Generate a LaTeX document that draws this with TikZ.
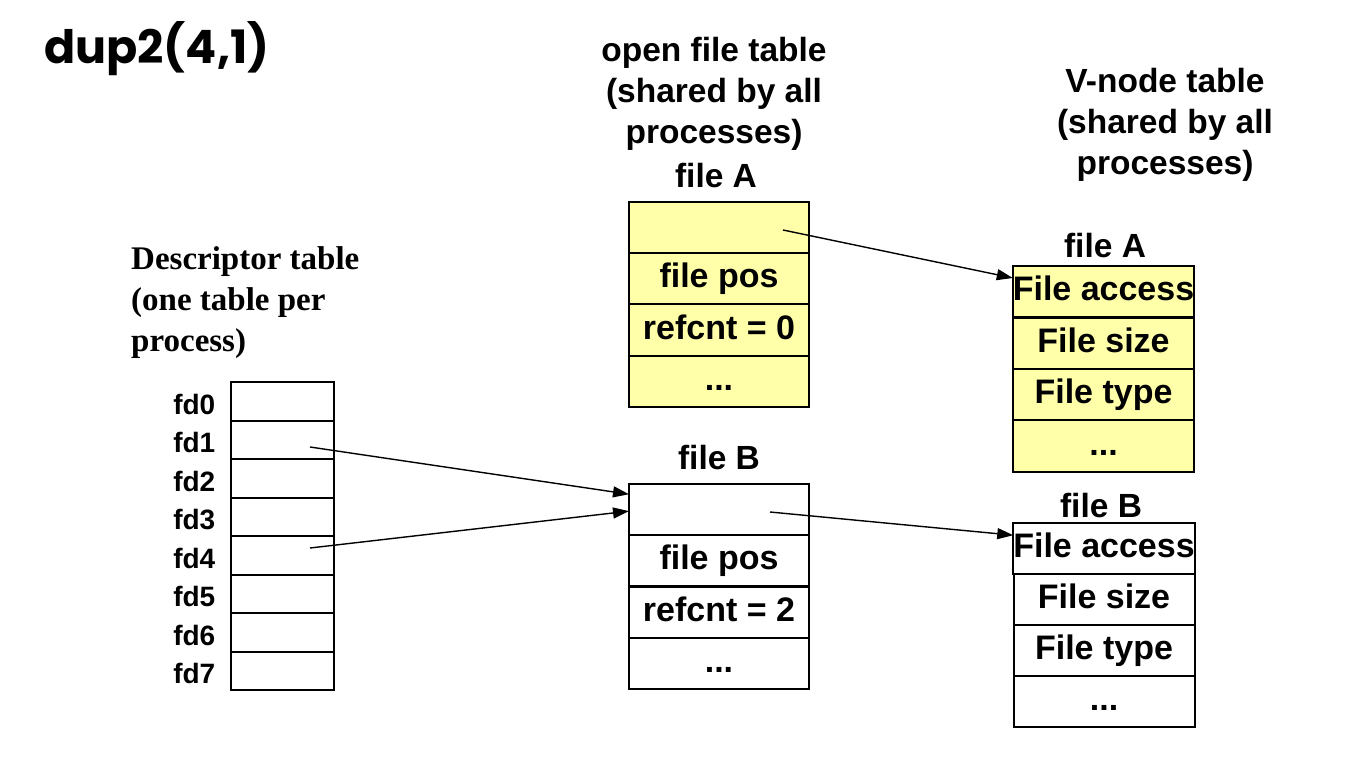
\documentclass[tikz,border=0pt]{standalone}
\usepackage{fontspec}
\setmainfont{Liberation Sans}
\newfontfamily\serifb{Liberation Serif}
\newfontfamily\titlef{Poppins}
\usetikzlibrary{arrows.meta,calc}
\definecolor{pale}{HTML}{FFFFAA}
\newcommand{\fsz}[2]{\fontsize{#1}{#2}\selectfont}
\tikzset{
  cell/.style={draw, line width=2pt, inner sep=0pt, outer sep=0pt, text height=25pt, text depth=7pt, font=\bfseries\fsz{34}{40}},
  fdcell/.style={cell, minimum width=103, minimum height=38.5},
  ofcell/.style={cell, minimum width=180, minimum height=51.25},
  vncell/.style={cell, minimum width=181, minimum height=51.2},
  fdlab/.style={anchor=east, inner sep=0pt, font=\bfseries\fsz{28}{32}},
  head/.style={inner sep=0pt, align=center, font=\bfseries\fsz{33.5}{41}},
  arr/.style={line width=1.4pt, -{Triangle[length=16pt, width=11pt]}},
}
\begin{document}
\begin{tikzpicture}[x=1pt, y=-1pt]
\useasboundingbox (0,0) rectangle (1356,768);
% title
\node[inner sep=0pt, anchor=west, font=\titlef\bfseries\fsz{46}{52}] (title) at (44,49) {dup2(4,1)};
% descriptor table
\node[inner sep=0pt, anchor=west, align=left, font=\serifb\bfseries\fsz{33}{41}] (dhead) at (131,303) {Descriptor table\\(one table per\\process)};
\foreach \i in {0,...,7} {
  \node[fdlab] (fl\i) at (215.5,{385+38.5*(\i+0.5)}) {fd\i};
  \node[fdcell] (d\i) at (282.5,{382+38.5*(\i+0.5)}) {};
}
% open file table
\node[head] (ohead) at (714,94) {open file table\\(shared by all\\processes)};
\node[head] (oA) at (716,176) {file A};
\node[ofcell, fill=pale] (oa1) at (719,227.6) {};
\node[ofcell, fill=pale] (oa2) at (719,278.9) {file pos};
\node[ofcell, fill=pale] (oa3) at (719,330.1) {refcnt = 0};
\node[ofcell, fill=pale] (oa4) at (719,381.4) {...};
\node[head] (oB) at (719,458) {file B};
\node[ofcell] (ob1) at (719,509.6) {};
\node[ofcell] (ob2) at (719,560.9) {file pos};
\node[ofcell] (ob3) at (719,612.1) {refcnt = 2};
\node[ofcell] (ob4) at (719,663.4) {...};
% v-node table
\node[head] (vhead) at (1165,125) {V-node table\\(shared by all\\processes)};
\node[head] (vA) at (1105,246) {file A};
\node[vncell, fill=pale] (va1) at (1103.5,291.8) {File access};
\node[vncell, fill=pale] (va2) at (1103.5,343.2) {File size};
\node[vncell, fill=pale] (va3) at (1103.5,394.6) {File type};
\node[vncell, fill=pale] (va4) at (1103.5,446) {...};
\node[head] (vB) at (1101,506) {file B};
\node[vncell] (vb1) at (1104,548.5) {File access};
\node[vncell] (vb2) at (1104,599.5) {File size};
\node[vncell] (vb3) at (1104,650.5) {File type};
\node[vncell] (vb4) at (1104,701.5) {...};
% connectors
\coordinate (sA) at (783,230);
\coordinate (s1) at (310,447);
\coordinate (s4) at (310,548);
\coordinate (sB) at (770,512);
\draw[arr] (sA) -- ($(va1.north west)!0.23!(va1.south west)$);
\draw[arr] (s1) -- ($(ob1.north west)!0.2!(ob1.south west)$);
\draw[arr] (s4) -- ($(ob1.north west)!0.53!(ob1.south west)$);
\draw[arr] (sB) -- ($(vb1.north west)!0.24!(vb1.south west)$);
\end{tikzpicture}
\end{document}
